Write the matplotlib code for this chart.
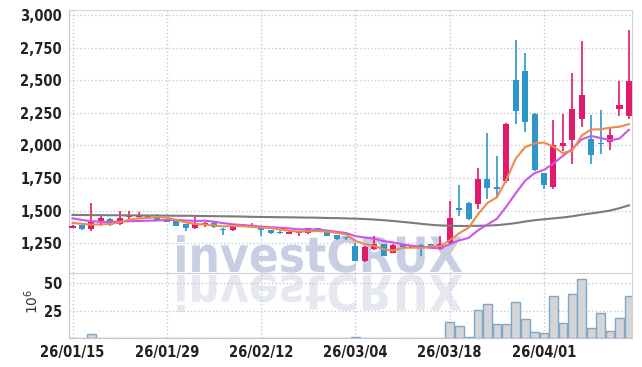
import numpy as np
import matplotlib.pyplot as plt
from matplotlib.textpath import TextPath
from matplotlib.patches import PathPatch
from matplotlib.font_manager import FontProperties, findfont
from matplotlib.transforms import Affine2D

# trading days (yy/mm/dd)
dates = ["26/01/15", "26/01/16", "26/01/19", "26/01/20", "26/01/21", "26/01/22", "26/01/23", "26/01/26", "26/01/27", "26/01/28",
         "26/01/29", "26/01/30", "26/02/02", "26/02/03", "26/02/04", "26/02/05", "26/02/06", "26/02/09", "26/02/10", "26/02/11",
         "26/02/12", "26/02/13", "26/02/19", "26/02/20", "26/02/23", "26/02/24", "26/02/25", "26/02/26", "26/02/27", "26/03/03",
         "26/03/04", "26/03/05", "26/03/06", "26/03/09", "26/03/10", "26/03/11", "26/03/12", "26/03/13", "26/03/16", "26/03/17",
         "26/03/18", "26/03/19", "26/03/20", "26/03/23", "26/03/24", "26/03/25", "26/03/26", "26/03/27", "26/03/30", "26/03/31",
         "26/04/01", "26/04/02", "26/04/03", "26/04/06", "26/04/07", "26/04/08", "26/04/09", "26/04/10", "26/04/13", "26/04/14"]

opens = [1370, 1387, 1356, 1416, 1433, 1395, 1448, 1450, 1460, 1450,
         1433, 1420, 1395, 1364, 1387, 1407, 1360, 1350, 1393, 1392,
         1382, 1350, 1339, 1320, 1331, 1326, 1366, 1340, 1311, 1290,
         1229, 1114, 1203, 1240, 1178, 1236, 1218, 1232, 1240, 1203,
         1254, 1515, 1555, 1553, 1739, 1677, 1726, 2503, 2572, 2243,
         1785, 1680, 1993, 2044, 2203, 2052, 2015, 2024, 2281, 2223]
highs = [1390, 1390, 1560, 1458, 1440, 1494, 1494, 1490, 1464, 1473,
         1440, 1425, 1398, 1450, 1410, 1412, 1365, 1385, 1398, 1407,
         1385, 1352, 1345, 1342, 1346, 1368, 1370, 1342, 1313, 1300,
         1255, 1225, 1303, 1245, 1240, 1240, 1236, 1240, 1245, 1303,
         1573, 1693, 1565, 1828, 2096, 1917, 2170, 2809, 2707, 2245,
         1790, 2197, 2241, 2554, 2801, 2230, 2269, 2134, 2490, 2885]
lows = [1368, 1352, 1345, 1385, 1380, 1392, 1433, 1442, 1448, 1428,
        1410, 1378, 1344, 1360, 1375, 1370, 1313, 1347, 1380, 1364,
        1303, 1320, 1318, 1318, 1305, 1322, 1340, 1305, 1278, 1275,
        1110, 1108, 1200, 1148, 1175, 1218, 1215, 1152, 1212, 1200,
        1240, 1459, 1425, 1509, 1586, 1599, 1708, 2164, 2103, 1805,
        1662, 1667, 1955, 1860, 2141, 1860, 1937, 1968, 2223, 2200]
closes = [1385, 1360, 1412, 1440, 1390, 1445, 1463, 1463, 1452, 1430,
          1415, 1382, 1364, 1395, 1407, 1376, 1350, 1382, 1384, 1381,
          1350, 1331, 1326, 1339, 1344, 1364, 1342, 1308, 1285, 1287,
          1114, 1221, 1240, 1152, 1236, 1221, 1232, 1225, 1215, 1240,
          1445, 1505, 1433, 1739, 1670, 1662, 2164, 2261, 2180, 1810,
          1695, 2000, 2019, 2278, 2388, 1924, 2008, 2083, 2312, 2490]
# volume in millions of shares
volume = [0.6, 0.4, 3.8, 0.8, 0.5, 0.6, 0.5, 0.4, 0.3, 0.4,
          0.3, 0.4, 0.5, 0.4, 0.3, 0.3, 0.4, 0.3, 0.2, 0.3,
          0.4, 0.3, 0.2, 0.3, 0.3, 0.4, 0.3, 0.3, 0.4, 0.3,
          0.9, 0.6, 0.5, 0.5, 0.4, 0.3, 0.3, 0.3, 0.3, 0.4,
          14.7, 11.4, 1.3, 25.6, 31.0, 12.9, 12.9, 32.9, 17.4, 5.6,
          4.7, 38.4, 13.8, 40.2, 53.8, 9.3, 22.9, 6.5, 18.4, 38.4]

ma5 = [1405, 1398, 1392, 1395, 1397, 1409, 1430, 1440, 1443, 1451,
       1445, 1428, 1409, 1397, 1393, 1385, 1378, 1382, 1380, 1375,
       1369, 1366, 1354, 1345, 1338, 1341, 1343, 1339, 1329, 1317,
       1267, 1243, 1229, 1203, 1193, 1214, 1216, 1213, 1226, 1227,
       1271, 1326, 1368, 1472, 1558, 1602, 1734, 1899, 1987, 2015,
       2022, 1989, 1941, 1960, 2076, 2122, 2123, 2136, 2143, 2163]
ma10 = [1440, 1428, 1418, 1414, 1413, 1415, 1418, 1420, 1422, 1424,
        1427, 1429, 1424, 1420, 1422, 1415, 1403, 1395, 1389, 1384,
        1377, 1372, 1368, 1363, 1356, 1355, 1354, 1347, 1337, 1328,
        1304, 1293, 1284, 1266, 1255, 1241, 1230, 1221, 1214, 1210,
        1243, 1271, 1290, 1349, 1393, 1437, 1530, 1633, 1730, 1787,
        1812, 1861, 1920, 1974, 2046, 2072, 2056, 2039, 2052, 2120]
ma60 = [1466, 1466, 1465, 1465, 1464, 1464, 1463, 1463, 1462, 1462,
        1461, 1460, 1460, 1459, 1458, 1457, 1456, 1455, 1454, 1452,
        1451, 1450, 1449, 1448, 1447, 1446, 1445, 1443, 1442, 1440,
        1438, 1435, 1431, 1426, 1420, 1413, 1406, 1398, 1391, 1386,
        1383, 1382, 1382, 1383, 1385, 1388, 1395, 1404, 1416, 1426,
        1433, 1440, 1447, 1456, 1468, 1478, 1488, 1500, 1518, 1540]

price_ticks = [1250, 1500, 1750, 2000, 2250, 2500, 2750, 3000]
volume_ticks = [25, 50]

up_color = "#e3196b"
down_color = "#2e97c8"
grid_color = "#c6c9dc"
text_color = "#222222"

# narrow bold face for tick labels, if a condensed file is around
tick_font = FontProperties(family="DejaVu Sans", weight="bold", stretch="condensed", size=10.5)
if "Condensed" not in findfont(tick_font):
    tick_font = FontProperties(family="Liberation Sans", weight="bold", size=9.5)

fig = plt.figure(figsize=(6.42, 3.67), dpi=100)
ax = fig.add_axes([0.1075, 0.2561, 0.8777, 0.7166])
axv = fig.add_axes([0.1075, 0.0777, 0.8777, 0.1784], sharex=ax)
ax.set_facecolor("none")
axv.set_facecolor("none")

# watermark with its reflection, in pixel coordinates
fp = FontProperties(family="DejaVu Sans", weight="bold")
tp = TextPath((0, 0), "investCRUX", size=1, prop=fp)
ext = tp.get_extents()
sx = 285 / ext.width
sy = 37 / ext.ymax
top = Affine2D().translate(-ext.xmin, 0).scale(sx, sy).translate(177, 95)
mirror = Affine2D().translate(-ext.xmin, 0).scale(sx, -sy).translate(177, 92)
fig.add_artist(PathPatch(tp, transform=top, facecolor="#c9cee2", edgecolor="none", zorder=-1))
fig.add_artist(PathPatch(tp, transform=mirror, facecolor="#e6e8f0", edgecolor="none", zorder=-1))

x = np.arange(len(dates))
o = np.array(opens)
c = np.array(closes)
colors = [up_color if cc >= oo else down_color for oo, cc in zip(opens, closes)]
body_low = np.minimum(o, c)
body_h = np.maximum(np.abs(c - o), 12)

ax.vlines(x, lows, highs, colors=colors, linewidth=1.2, zorder=3)
ax.bar(x, body_h, bottom=body_low, width=0.64, color=colors, zorder=4)
ax.plot(x, ma60, color="#7b7b7b", linewidth=1.5, zorder=5)
ax.plot(x, ma10, color="#cc55e8", linewidth=1.5, zorder=5)
ax.plot(x, ma5, color="#ef8a4f", linewidth=1.5, zorder=5)

axv.bar(x, volume, width=0.92, color="#d5d5d7", edgecolor="#7ea8c8", linewidth=1, zorder=3)

tick_pos = x[::10]
ax.set_xlim(-0.37, 59.38)
ax.set_ylim(1021, 3038)
ax.set_yticks(price_ticks)
ax.set_yticklabels(["{:,}".format(v) for v in price_ticks])
axv.set_ylim(0, 59.5)
axv.set_yticks(volume_ticks)
axv.set_xticks(tick_pos)
axv.set_xticklabels([dates[i] for i in tick_pos])
ax.tick_params(axis="x", labelbottom=False)

for a in (ax, axv):
    a.grid(True, linestyle=":", color=grid_color, linewidth=1, zorder=0)
    a.set_axisbelow(True)
    a.tick_params(length=0, pad=5, labelcolor=text_color)
    for lab in a.get_xticklabels() + a.get_yticklabels():
        lab.set_fontproperties(tick_font)
    a.spines["left"].set_color("#c4c6d6")
    a.spines["right"].set_color("#d6d6d6")
    a.spines["top"].set_color("#d6d6d6")
    a.spines["bottom"].set_color("#cfcfcf")
axv.spines["top"].set_visible(False)
axv.spines["bottom"].set_color("#c4c6d6")

fig.text(0.05, 1 - 301 / 367, r"$10^6$", rotation=90, ha="center", va="center",
         fontsize=10, color="#333333")

fig.savefig("out.png", dpi=100)
